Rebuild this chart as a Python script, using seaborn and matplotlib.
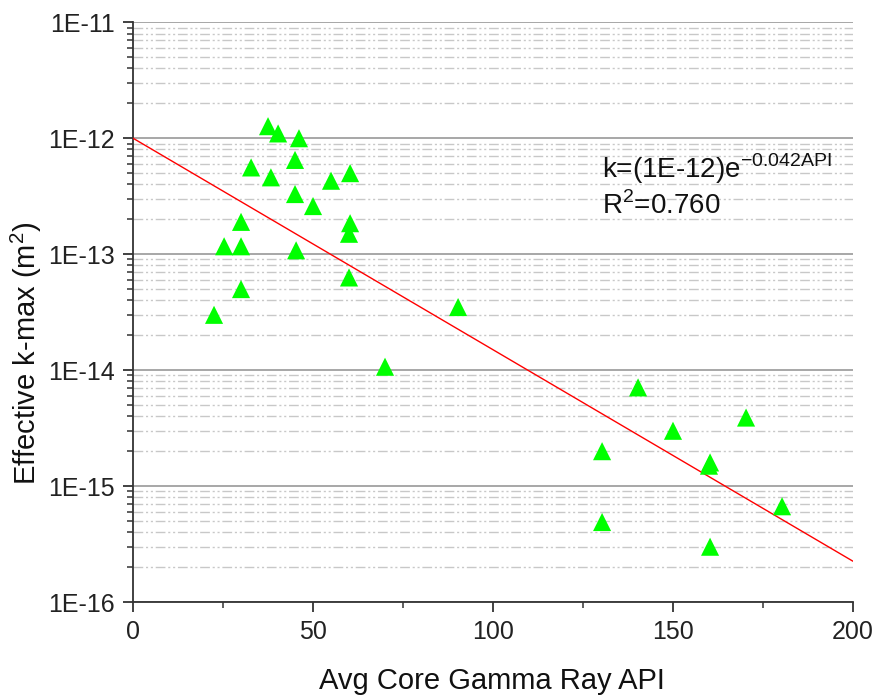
import numpy as np
import pandas as pd
import matplotlib
matplotlib.use("Agg")
import matplotlib.pyplot as plt
import matplotlib.ticker as mticker
import seaborn as sns

# data
api = [37.5, 40.3, 46.1, 32.8, 45.0, 38.3, 45.0, 55.0, 60.3, 50.0,
       30.0, 60.3, 60.0, 25.3, 30.0, 45.3, 60.0, 30.0, 22.5, 90.3,
       70.0, 140.3, 170.3, 150.0, 130.3, 160.3, 160.0, 180.3, 130.3, 160.3]
kmax = [1.27e-12, 1.1e-12, 1.0e-12, 5.6e-13, 6.5e-13, 4.6e-13, 3.3e-13, 4.3e-13, 5.0e-13, 2.6e-13,
        1.9e-13, 1.85e-13, 1.5e-13, 1.17e-13, 1.17e-13, 1.08e-13, 6.3e-14, 5.0e-14, 3.0e-14, 3.5e-14,
        1.07e-14, 7.1e-15, 3.9e-15, 3.0e-15, 2.0e-15, 1.6e-15, 1.5e-15, 6.7e-16, 4.9e-16, 3.0e-16]
fit_a = 1e-12
fit_b = -0.042
fit_x = [0, 200]
y_ticks = [1e-16, 1e-15, 1e-14, 1e-13, 1e-12, 1e-11]
y_tick_labels = ["1E-16", "1E-15", "1E-14", "1E-13", "1E-12", "1E-11"]
x_ticks = [0, 50, 100, 150, 200]

sns.set_style("white")
plt.rcParams['font.family'] = ['Liberation Sans', 'DejaVu Sans']
plt.rcParams['mathtext.fontset'] = 'custom'
plt.rcParams['mathtext.rm'] = 'Liberation Sans'

fig = plt.figure(figsize=(8.77, 6.96), dpi=100)
ax = fig.add_axes([0.1517, 0.135, 0.8209, 0.833])

df = pd.DataFrame({"api": api, "k": kmax})
xs = np.linspace(fit_x[0], fit_x[1], 200)
fit_df = pd.DataFrame({"x": xs, "y": fit_a * np.exp(fit_b * xs)})

ax.set_yscale("log")
sns.lineplot(data=fit_df, x="x", y="y", ax=ax, color="#ff0000", linewidth=1.0, zorder=3)
sns.scatterplot(data=df, x="api", y="k", ax=ax, marker="^", s=170, color="#00ff00",
                edgecolor="none", linewidth=0, zorder=4)

ax.set_xlim(0, 200)
ax.set_ylim(1e-16, 1e-11)

# grid
ax.yaxis.set_major_locator(mticker.FixedLocator(y_ticks))
ax.yaxis.set_major_formatter(mticker.FixedFormatter(y_tick_labels))
ax.yaxis.set_minor_locator(mticker.LogLocator(base=10, subs=np.arange(2, 10)))
ax.yaxis.set_minor_formatter(mticker.NullFormatter())
ax.grid(False)
ax.grid(True, which="major", axis="y", color="#a0a0a0", linewidth=1.3, linestyle="-", zorder=0)
ax.grid(True, which="minor", axis="y", color="#c8c8c8", linewidth=1.0,
        linestyle=(0, (7, 2, 1.5, 2, 1.5, 2)), zorder=0)
ax.set_axisbelow(True)

ax.set_xticks(x_ticks)
ax.xaxis.set_minor_locator(mticker.MultipleLocator(25))

for side in ["top", "right"]:
    ax.spines[side].set_visible(False)
for side in ["left", "bottom"]:
    ax.spines[side].set_color("#333333")
    ax.spines[side].set_linewidth(1.3)

ax.tick_params(axis="both", which="major", direction="out", length=7, width=1.3,
               color="#333333", labelsize=18, labelcolor="#222222", pad=6,
               left=True, bottom=True)
ax.tick_params(axis="both", which="minor", direction="out", length=4, width=1.1,
               color="#333333", left=True, bottom=True)

ax.set_xlabel("Avg Core Gamma Ray API", fontsize=21, color="#111111")
ax.set_ylabel(r"Effective k-max (m$^{\mathregular{2}}$)", fontsize=21, color="#111111")
ax.xaxis.set_label_coords(0.499, -0.112)
ax.yaxis.set_label_coords(-0.124, 0.43)

ax.text(0.651, 0.731, r"k=(1E-12)e$^{\mathregular{-0.042API}}$", transform=ax.transAxes,
        fontsize=20, color="#111111", va="baseline", ha="left")
ax.text(0.651, 0.669, r"R$^{\mathregular{2}}$=0.760", transform=ax.transAxes,
        fontsize=20, color="#111111", va="baseline", ha="left")

fig.savefig("out.png", dpi=100)
